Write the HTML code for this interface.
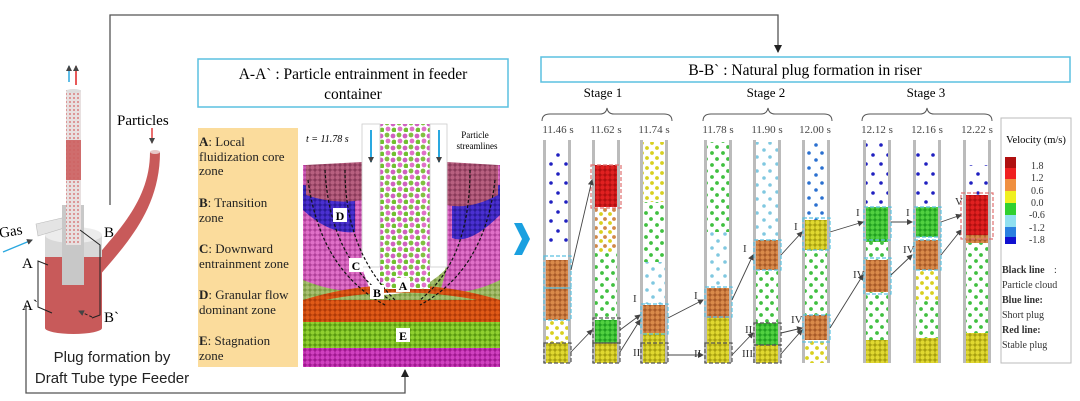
<!DOCTYPE html>
<html><head><meta charset="utf-8"><style>
html,body{margin:0;padding:0;background:#fff;}
svg{display:block;font-family:"Liberation Serif",serif;}
</style></head><body>
<svg width="1080" height="401" viewBox="0 0 1080 401" xmlns="http://www.w3.org/2000/svg">
<defs>
<pattern id="dR" width="5" height="5" patternUnits="userSpaceOnUse"><rect width="5" height="5" fill="#b01010"/><circle cx="2.5" cy="2.5" r="2.2" fill="#e02020"/></pattern>
<pattern id="dO" width="5" height="5" patternUnits="userSpaceOnUse"><rect width="5" height="5" fill="#a85a28"/><circle cx="2.5" cy="2.5" r="2.2" fill="#d98a4a"/></pattern>
<pattern id="dY" width="5" height="5" patternUnits="userSpaceOnUse"><rect width="5" height="5" fill="#a8a010"/><circle cx="2.5" cy="2.5" r="2.2" fill="#e0d830"/></pattern>
<pattern id="dG" width="5" height="5" patternUnits="userSpaceOnUse"><rect width="5" height="5" fill="#20a020"/><circle cx="2.5" cy="2.5" r="2.2" fill="#50d040"/></pattern>
<pattern id="sB" width="15" height="19" patternUnits="userSpaceOnUse"><circle cx="3" cy="3" r="1.8" fill="#2020c0"/><circle cx="11" cy="12" r="1.8" fill="#2020c0"/></pattern>
<pattern id="sLB" width="13" height="14" patternUnits="userSpaceOnUse"><circle cx="3" cy="3" r="1.8" fill="#80c8e0"/><circle cx="10" cy="10" r="1.8" fill="#80c8e0"/></pattern>
<pattern id="sG" width="11" height="12" patternUnits="userSpaceOnUse"><circle cx="2" cy="3" r="1.9" fill="#40c040"/><circle cx="8" cy="9" r="1.9" fill="#40c040"/></pattern>
<pattern id="sY" width="10" height="10" patternUnits="userSpaceOnUse"><circle cx="2" cy="3" r="1.9" fill="#d8d020"/><circle cx="7" cy="8" r="1.9" fill="#d8d020"/></pattern>
<pattern id="sO" width="9" height="9" patternUnits="userSpaceOnUse"><circle cx="2" cy="3" r="1.9" fill="#d08848"/><circle cx="7" cy="7" r="1.9" fill="#d8d020"/></pattern>
<pattern id="sDB" width="13" height="15" patternUnits="userSpaceOnUse"><circle cx="3" cy="3" r="1.8" fill="#2a70d0"/><circle cx="10" cy="10" r="1.8" fill="#2a70d0"/></pattern>
<pattern id="pM" width="5" height="5" patternUnits="userSpaceOnUse"><rect width="5" height="5" fill="#8a3a5a"/><circle cx="2.5" cy="2.5" r="2.2" fill="#b86080"/></pattern>
<pattern id="pB" width="5" height="5" patternUnits="userSpaceOnUse"><rect width="5" height="5" fill="#2a1a9a"/><circle cx="2.5" cy="2.5" r="2.2" fill="#4a30d0"/></pattern>
<pattern id="pP" width="5" height="5" patternUnits="userSpaceOnUse"><rect width="5" height="5" fill="#b0409a"/><circle cx="2.5" cy="2.5" r="2.2" fill="#e070c8"/></pattern>
<pattern id="pOl" width="5" height="5" patternUnits="userSpaceOnUse"><rect width="5" height="5" fill="#7a9a40"/><circle cx="2.5" cy="2.5" r="2.2" fill="#a8c070"/></pattern>
<pattern id="pOr" width="5" height="5" patternUnits="userSpaceOnUse"><rect width="5" height="5" fill="#b03a08"/><circle cx="2.5" cy="2.5" r="2.2" fill="#e05a18"/></pattern>
<pattern id="pGr" width="5" height="5" patternUnits="userSpaceOnUse"><rect width="5" height="5" fill="#5a9a10"/><circle cx="2.5" cy="2.5" r="2.2" fill="#90d030"/></pattern>
<pattern id="pMg" width="5" height="5" patternUnits="userSpaceOnUse"><rect width="5" height="5" fill="#a01890"/><circle cx="2.5" cy="2.5" r="2.2" fill="#d040c0"/></pattern>
<pattern id="pMix" width="12" height="12" patternUnits="userSpaceOnUse"><rect width="12" height="12" fill="#fff"/><circle cx="3" cy="3" r="2.4" fill="#80c040"/><circle cx="9" cy="4" r="2.4" fill="#d060c0"/><circle cx="4" cy="9" r="2.4" fill="#e070c8"/><circle cx="10" cy="10" r="2.4" fill="#70c030"/></pattern>
<pattern id="fp" width="4" height="4" patternUnits="userSpaceOnUse"><rect width="4" height="4" fill="#e8e0e0"/><circle cx="2" cy="2" r="1" fill="#d88080"/></pattern>
<marker id="ah" markerWidth="8" markerHeight="8" refX="7" refY="4" orient="auto" markerUnits="userSpaceOnUse"><path d="M0,0 L8,4 L0,8z" fill="#222"/></marker>
<marker id="as" markerWidth="6" markerHeight="6" refX="5" refY="3" orient="auto" markerUnits="userSpaceOnUse"><path d="M0,0 L6,3 L0,6z" fill="#444"/></marker>
</defs>

<polyline points="110,205 110,15 778,15 778,52" fill="none" stroke="#555" stroke-width="1.3" marker-end="url(#ah)"/>
<polyline points="26,305 26,393 405,393 405,370" fill="none" stroke="#555" stroke-width="1.3" marker-end="url(#ah)"/>

<!-- feeder -->
<path d="M98,255 C118,230 150,200 150,152 L160,152 C160,210 125,245 100,275 Z" fill="#c85a5a"/>
<ellipse cx="155" cy="152" rx="5" ry="2" fill="#e8c8c8"/>
<text x="117" y="125" font-size="15">Particles</text>
<line x1="152" y1="128" x2="152" y2="143" stroke="#e02020" stroke-width="1.3" marker-end="url(#as)"/>
<rect x="45" y="240" width="57" height="88" fill="#c85a5a"/>
<ellipse cx="73.5" cy="328" rx="28.5" ry="6" fill="#c85a5a"/>
<rect x="45" y="235" width="57" height="22" fill="#d8d8d8"/>
<ellipse cx="73.5" cy="235" rx="28.5" ry="8" fill="#ececec"/>
<path d="M36,224 L62,218 L64,228 L38,236Z" fill="#e4e4e4" stroke="#bbb" stroke-width="0.6"/>
<rect x="62" y="205" width="22" height="80" fill="#c8c8c8"/>
<rect x="66" y="90" width="15" height="155" fill="url(#fp)"/>
<rect x="66" y="140" width="15" height="40" fill="#cc6060" opacity="0.9"/>
<ellipse cx="73.5" cy="91" rx="7.5" ry="2" fill="#ddd"/>
<line x1="69" y1="82" x2="69" y2="66" stroke="#2aa8e0" stroke-width="1.5" marker-end="url(#as)"/>
<line x1="76" y1="85" x2="76" y2="66" stroke="#e02020" stroke-width="1.5" marker-end="url(#as)"/>
<text x="0" y="238" font-size="15" transform="rotate(-10 0 238)">Gas</text>
<line x1="3" y1="252" x2="32" y2="240" stroke="#2aa8e0" stroke-width="1.3" marker-end="url(#as)"/>
<text x="22" y="268" font-size="15">A</text>
<text x="22" y="310" font-size="15">A`</text>
<polyline points="48,265 38,261 38,307 52,313" fill="none" stroke="#222" stroke-width="1"/>
<polyline points="80,230 100,245 100,315 92,318" fill="none" stroke="#222" stroke-width="1"/>
<text x="104" y="237" font-size="15">B</text>
<text x="104" y="322" font-size="15">B`</text>
<line x1="92" y1="317" x2="79" y2="311" stroke="#222" stroke-dasharray="3,2" marker-end="url(#as)"/>
<g font-family="Liberation Sans, sans-serif" font-size="15" text-anchor="middle" fill="#222">
<text x="112" y="362">Plug formation by</text>
<text x="112" y="383">Draft Tube type Feeder</text>
</g>

<rect x="198" y="59" width="310" height="48" fill="#fff" stroke="#5bc0e0" stroke-width="1.5"/>
<text x="353" y="79" font-size="15.5" text-anchor="middle">A-A` : Particle entrainment in feeder</text>
<text x="353" y="99" font-size="15.5" text-anchor="middle">container</text>
<rect x="198" y="128" width="100" height="239" fill="#fbdc9c"/>
<g font-size="13" fill="#222">
<text x="199" y="146"><tspan font-weight="bold">A</tspan>: Local</text>
<text x="199" y="161">fluidization core</text>
<text x="199" y="175">zone</text>
<text x="199" y="207"><tspan font-weight="bold">B</tspan>: Transition</text>
<text x="199" y="222">zone</text>
<text x="199" y="253"><tspan font-weight="bold">C</tspan>: Downward</text>
<text x="199" y="268">entrainment zone</text>
<text x="199" y="299"><tspan font-weight="bold">D</tspan>: Granular flow</text>
<text x="199" y="314">dominant zone</text>
<text x="199" y="345"><tspan font-weight="bold">E</tspan>: Stagnation</text>
<text x="199" y="360">zone</text>
</g>
<rect x="303" y="127" width="197" height="240" fill="#fff"/>
<rect x="303" y="295" width="197" height="30" fill="url(#pOr)"/>
<rect x="303" y="322" width="197" height="28" fill="url(#pGr)"/>
<rect x="303" y="348" width="197" height="19" fill="url(#pMg)"/>
<path d="M303,215 L303,300 L500,300 L500,215 L460,215 L445,270 Q420,295 380,295 Q360,290 362,268 L345,215Z" fill="url(#pOl)"/>
<path d="M303,165 L303,280 Q340,295 370,290 L362,268 L362,165Z M500,165 L500,280 Q470,295 440,292 L447,268 L447,165Z" fill="url(#pP)"/>
<path d="M303,185 L303,210 Q330,235 355,232 L355,190Z M500,185 L500,215 Q470,245 452,238 L452,190Z" fill="url(#pB)"/>
<path d="M306,165 L362,162 L362,200 Q335,205 306,195Z M447,162 L498,165 L498,195 Q470,210 447,205Z" fill="url(#pM)"/>
<path d="M303,300 Q400,270 500,300 L500,305 Q400,280 303,305Z" fill="url(#pOr)"/>
<rect x="380" y="124" width="50" height="165" fill="url(#pMix)"/>
<rect x="362" y="124" width="18" height="143" fill="#fff" stroke="#ccc" stroke-width="0.8"/>
<rect x="430" y="124" width="17" height="143" fill="#fff" stroke="#ccc" stroke-width="0.8"/>
<line x1="371" y1="130" x2="371" y2="162" stroke="#2aa8e0" stroke-width="2" marker-end="url(#as)"/>
<line x1="439" y1="130" x2="439" y2="162" stroke="#2aa8e0" stroke-width="2" marker-end="url(#as)"/>
<text x="306" y="142" font-size="10" font-style="italic">t = 11.78 s</text>
<text x="475" y="138" font-size="9" text-anchor="middle">Particle</text>
<text x="477" y="149" font-size="9" text-anchor="middle">streamlines</text>
<g fill="none" stroke="#111" stroke-dasharray="3,2" stroke-width="1.2">
<path d="M308,180 Q320,270 385,305"/><path d="M325,170 Q330,260 390,300"/><path d="M345,170 Q345,250 395,300"/>
<path d="M495,180 Q485,270 420,305"/><path d="M470,170 Q470,260 420,300"/>
</g>
<g font-size="12" font-weight="bold" text-anchor="middle">
<rect x="333" y="208" width="14" height="14" fill="#fff"/><text x="340" y="220">D</text>
<rect x="349" y="258" width="14" height="14" fill="#fff"/><text x="356" y="270">C</text>
<rect x="370" y="285" width="14" height="14" fill="#fff"/><text x="377" y="297">B</text>
<rect x="396" y="278" width="14" height="14" fill="#fff"/><text x="403" y="290">A</text>
<rect x="396" y="328" width="14" height="14" fill="#fff"/><text x="403" y="340">E</text>
</g>
<path d="M514,223 L522,223 L530,239 L522,255 L514,255 L522,239Z" fill="#1aa0e0"/>

<rect x="541" y="57" width="529" height="25" fill="#fff" stroke="#5bc0e0" stroke-width="1.5"/>
<text x="805" y="75" font-size="15.5" text-anchor="middle">B-B` : Natural plug formation in riser</text>
<g font-size="13" text-anchor="middle">
<text x="603" y="97">Stage 1</text><text x="766" y="97">Stage 2</text><text x="926" y="97">Stage 3</text>
</g>
<g fill="none" stroke="#555" stroke-width="1">
<path d="M542,121 Q542,114 550,114 L600,114 Q606,114 607,108 Q608,114 614,114 L664,114 Q672,114 672,121"/>
<path d="M703,121 Q703,114 711,114 L761,114 Q767,114 768,108 Q769,114 775,114 L824,114 Q832,114 832,121"/>
<path d="M862,121 Q862,114 870,114 L920,114 Q926,114 927,108 Q928,114 934,114 L984,114 Q992,114 992,121"/>
</g>
<g font-size="11" text-anchor="middle" fill="#444">
<text x="558" y="133">11.46 s</text><text x="606" y="133">11.62 s</text><text x="654" y="133">11.74 s</text>
<text x="718" y="133">11.78 s</text><text x="767" y="133">11.90 s</text><text x="815" y="133">12.00 s</text>
<text x="877" y="133">12.12 s</text><text x="927" y="133">12.16 s</text><text x="977" y="133">12.22 s</text>
</g>
<g>
<rect x="546" y="140" width="22" height="223" fill="#fff"/>
<rect x="546" y="148" width="22" height="100" fill="url(#sB)"/>
<rect x="546" y="260" width="22" height="60" fill="url(#dO)"/>
<rect x="546" y="320" width="22" height="25" fill="url(#sY)"/>
<rect x="546" y="343" width="22" height="20" fill="url(#dY)"/>
<rect x="595" y="165" width="22" height="42" fill="url(#dR)"/>
<rect x="595" y="207" width="22" height="45" fill="url(#sO)"/>
<rect x="595" y="252" width="22" height="68" fill="url(#sG)"/>
<rect x="595" y="320" width="22" height="25" fill="url(#dG)"/>
<rect x="595" y="343" width="22" height="20" fill="url(#dY)"/>
<rect x="643" y="142" width="22" height="60" fill="url(#sY)"/>
<rect x="643" y="202" width="22" height="60" fill="url(#sG)"/>
<rect x="643" y="262" width="22" height="42" fill="url(#sLB)"/>
<rect x="643" y="305" width="22" height="28" fill="url(#dO)"/>
<rect x="643" y="333" width="22" height="30" fill="url(#dY)"/>
<rect x="707" y="142" width="22" height="90" fill="url(#sG)"/>
<rect x="707" y="232" width="22" height="56" fill="url(#sLB)"/>
<rect x="707" y="288" width="22" height="30" fill="url(#dO)"/>
<rect x="707" y="318" width="22" height="45" fill="url(#dY)"/>
<rect x="756" y="142" width="22" height="98" fill="url(#sLB)"/>
<rect x="756" y="240" width="22" height="30" fill="url(#dO)"/>
<rect x="756" y="270" width="22" height="55" fill="url(#sG)"/>
<rect x="756" y="323" width="22" height="22" fill="url(#dG)"/>
<rect x="756" y="345" width="22" height="18" fill="url(#dY)"/>
<rect x="805" y="142" width="22" height="78" fill="url(#sDB)"/>
<rect x="805" y="220" width="22" height="30" fill="url(#dY)"/>
<rect x="805" y="250" width="22" height="65" fill="url(#sG)"/>
<rect x="805" y="315" width="22" height="25" fill="url(#dO)"/>
<rect x="805" y="340" width="22" height="23" fill="url(#sY)"/>
<rect x="866" y="142" width="22" height="65" fill="url(#sB)"/>
<rect x="866" y="207" width="22" height="35" fill="url(#dG)"/>
<rect x="866" y="242" width="22" height="18" fill="url(#sG)"/>
<rect x="866" y="260" width="22" height="32" fill="url(#dO)"/>
<rect x="866" y="292" width="22" height="48" fill="url(#sG)"/>
<rect x="866" y="340" width="22" height="23" fill="url(#dY)"/>
<rect x="916" y="150" width="22" height="57" fill="url(#sB)"/>
<rect x="916" y="207" width="22" height="30" fill="url(#dG)"/>
<rect x="916" y="240" width="22" height="30" fill="url(#dO)"/>
<rect x="916" y="270" width="22" height="30" fill="url(#sY)"/>
<rect x="916" y="300" width="22" height="38" fill="url(#sG)"/>
<rect x="916" y="338" width="22" height="25" fill="url(#dY)"/>
<rect x="966" y="165" width="22" height="30" fill="url(#sB)"/>
<rect x="966" y="195" width="22" height="40" fill="url(#dR)"/>
<rect x="966" y="235" width="22" height="8" fill="url(#dO)"/>
<rect x="966" y="243" width="22" height="90" fill="url(#sG)"/>
<rect x="966" y="333" width="22" height="30" fill="url(#dY)"/>
</g>
<g fill="#bbb">
<rect x="543" y="140" width="3" height="223"/><rect x="568" y="140" width="3" height="223"/>
<rect x="592" y="140" width="3" height="223"/><rect x="617" y="140" width="3" height="223"/>
<rect x="640" y="140" width="3" height="223"/><rect x="665" y="140" width="3" height="223"/>
<rect x="704" y="140" width="3" height="223"/><rect x="729" y="140" width="3" height="223"/>
<rect x="753" y="140" width="3" height="223"/><rect x="778" y="140" width="3" height="223"/>
<rect x="802" y="140" width="3" height="223"/><rect x="827" y="140" width="3" height="223"/>
<rect x="863" y="140" width="3" height="223"/><rect x="888" y="140" width="3" height="223"/>
<rect x="913" y="140" width="3" height="223"/><rect x="938" y="140" width="3" height="223"/>
<rect x="963" y="140" width="3" height="223"/><rect x="988" y="140" width="3" height="223"/>
</g>
<g fill="none" stroke-dasharray="4,2" stroke-width="1.2">
<g stroke="#5bc0e0">
<rect x="544" y="256" width="27" height="32"/><rect x="544" y="288" width="27" height="32"/>
<rect x="641" y="304" width="27" height="30"/><rect x="705" y="287" width="27" height="30"/>
<rect x="754" y="240" width="27" height="30"/><rect x="803" y="218" width="27" height="32"/>
<rect x="803" y="315" width="27" height="27"/><rect x="864" y="207" width="27" height="33"/>
<rect x="864" y="258" width="27" height="36"/><rect x="914" y="207" width="27" height="30"/>
<rect x="914" y="240" width="27" height="30"/>
</g>
<g stroke="#555">
<rect x="544" y="343" width="27" height="20"/><rect x="593" y="318" width="27" height="25"/>
<rect x="593" y="343" width="27" height="20"/><rect x="641" y="343" width="27" height="20"/>
<rect x="705" y="343" width="27" height="20"/><rect x="754" y="323" width="27" height="22"/>
<rect x="754" y="345" width="27" height="18"/>
</g>
<g stroke="#e07070">
<rect x="591" y="165" width="30" height="43"/><rect x="961" y="193" width="32" height="46"/>
</g>
</g>
<g stroke="#444" stroke-width="0.9" marker-end="url(#as)" fill="none">
<line x1="571" y1="270" x2="592" y2="180"/><line x1="571" y1="352" x2="592" y2="330"/>
<line x1="620" y1="330" x2="640" y2="315"/><line x1="620" y1="352" x2="640" y2="320"/>
<line x1="668" y1="318" x2="703" y2="300"/><line x1="668" y1="355" x2="703" y2="355"/>
<line x1="732" y1="300" x2="753" y2="255"/><line x1="732" y1="355" x2="753" y2="333"/>
<line x1="781" y1="255" x2="802" y2="232"/><line x1="781" y1="333" x2="802" y2="328"/><line x1="781" y1="354" x2="802" y2="330"/>
<line x1="830" y1="232" x2="863" y2="222"/><line x1="830" y1="328" x2="863" y2="275"/>
<line x1="891" y1="222" x2="912" y2="222"/><line x1="891" y1="275" x2="912" y2="255"/>
<line x1="941" y1="222" x2="961" y2="215"/><line x1="941" y1="255" x2="961" y2="230"/>
</g>
<g font-size="11" fill="#333">
<text x="633" y="302">I</text><text x="633" y="356">II</text><text x="694" y="299">I</text><text x="694" y="357">II</text>
<text x="743" y="252">I</text><text x="745" y="333">II</text><text x="742" y="357">III</text>
<text x="794" y="230">I</text><text x="791" y="323">IV</text><text x="856" y="216">I</text><text x="853" y="278">IV</text>
<text x="906" y="216">I</text><text x="903" y="253">IV</text><text x="955" y="205">V</text>
</g>
<rect x="1001" y="118" width="70" height="245" fill="#fff" stroke="#bbb"/>
<text x="1036" y="143" font-size="10.5" text-anchor="middle">Velocity (m/s)</text>
<rect x="1005" y="157" width="11" height="11" fill="#b01010"/><rect x="1005" y="168" width="11" height="11" fill="#f02020"/>
<rect x="1005" y="179" width="11" height="12" fill="#f09040"/><rect x="1005" y="191" width="11" height="12" fill="#f0f020"/>
<rect x="1005" y="203" width="11" height="12" fill="#30d030"/><rect x="1005" y="215" width="11" height="12" fill="#90e0f0"/>
<rect x="1005" y="227" width="11" height="10" fill="#2a80e0"/><rect x="1005" y="237" width="11" height="7" fill="#1010d0"/>
<g font-size="10" fill="#333">
<text x="1031" y="169">1.8</text><text x="1031" y="181">1.2</text><text x="1031" y="194">0.6</text><text x="1031" y="206">0.0</text>
<text x="1029" y="218">-0.6</text><text x="1029" y="231">-1.2</text><text x="1029" y="243">-1.8</text>
<text x="1002" y="273" font-weight="bold">Black line</text><text x="1054" y="273">:</text>
<text x="1002" y="288">Particle cloud</text>
<text x="1002" y="303" font-weight="bold">Blue line:</text>
<text x="1002" y="318">Short plug</text>
<text x="1002" y="333" font-weight="bold">Red line:</text>
<text x="1002" y="348">Stable plug</text>
</g>
</svg>
</body></html>
